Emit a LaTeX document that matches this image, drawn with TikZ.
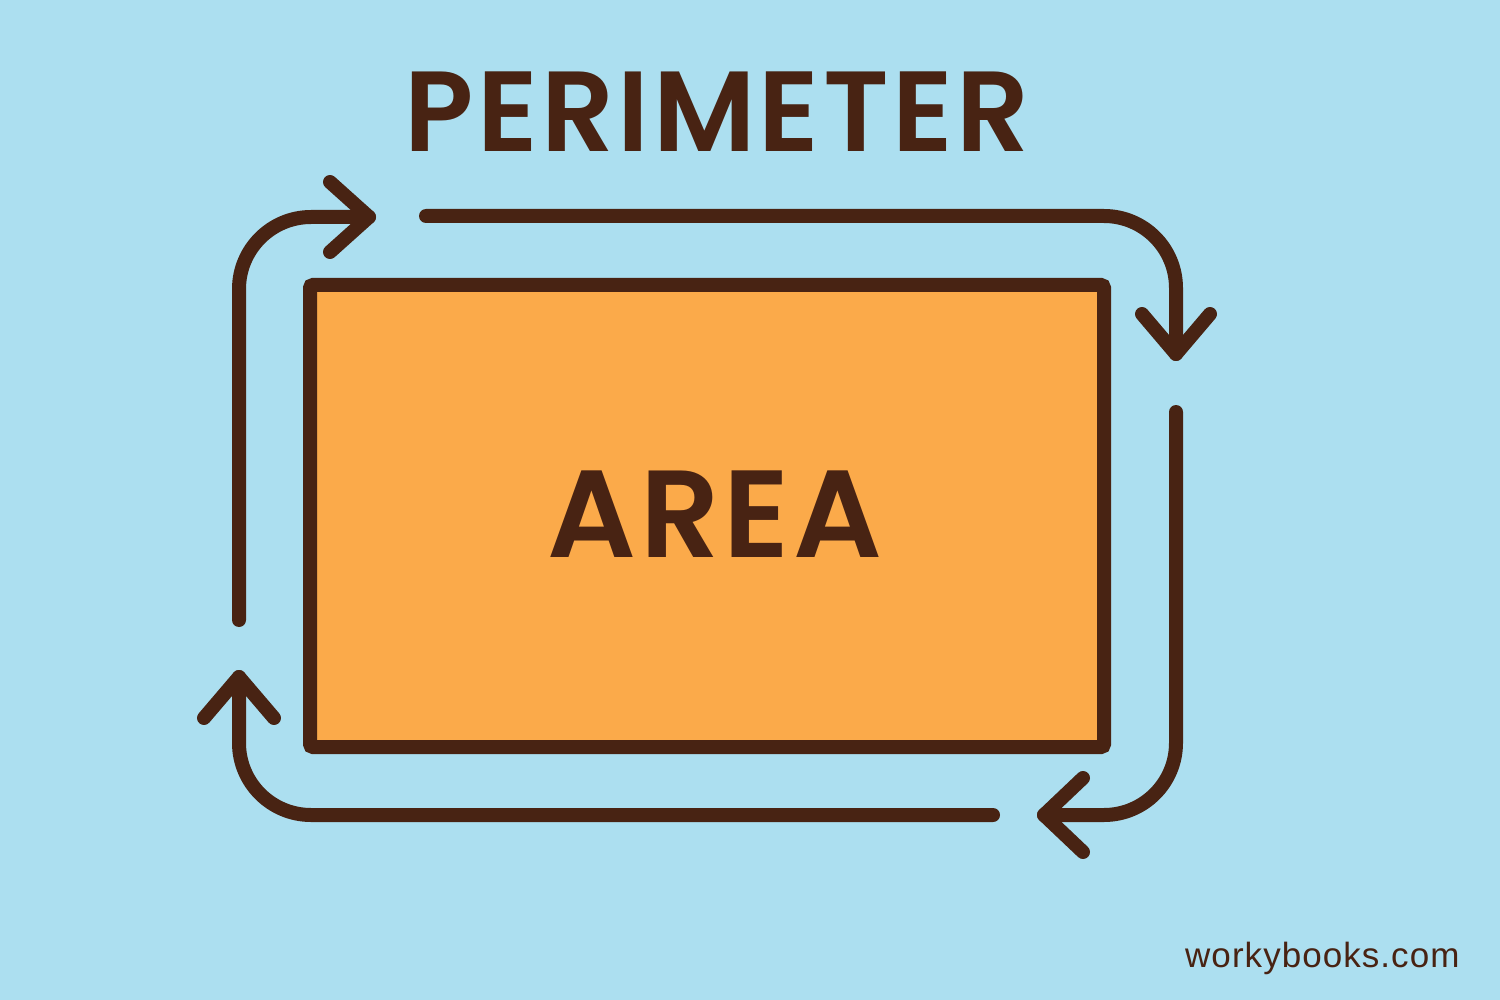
\documentclass[tikz,border=0pt]{standalone}
\usepackage{fontspec}
\setmainfont{Poppins}
\newfontfamily\titlefont{Poppins}[UprightFont={* SemiBold},LetterSpace=3]
\newfontfamily\urlfont{Liberation Sans}[LetterSpace=3]
\usetikzlibrary{calc}
\definecolor{bgblue}{RGB}{172,223,240}
\definecolor{boxorange}{RGB}{251,170,74}
\definecolor{brown}{RGB}{72,35,19}
\tikzset{
  perim/.style={draw=brown,line width=14pt,line cap=round,line join=round},
  headline/.style={draw=brown,line width=14pt,line cap=round,line join=round},
  title/.style={text=brown,inner sep=0pt,anchor=base},
}
\begin{document}
\begin{tikzpicture}[x=1pt,y=-1pt]
\useasboundingbox (0,0) rectangle (1500,1000);
\fill[bgblue] (0,0) rectangle (1500,1000);
% area rectangle
\node[draw=brown,fill=boxorange,line width=14pt,rounded corners=3pt,minimum width=794pt,minimum height=462pt,inner sep=0pt] (box) at (707,516) {};
\node[title,font=\titlefont\fontsize{124}{130}\selectfont] (area) at (715,557) {AREA};
\node[title,font=\titlefont\fontsize{114}{120}\selectfont] (perimeter) at (717,152) {PERIMETER};
\node[text=brown,font=\urlfont\fontsize{35}{40}\selectfont,anchor=base west,inner sep=0pt] (url) at (1185,967) {workybooks.com};
% coordinates
\coordinate (a1s) at (239,620); \coordinate (a1c) at (239,217); \coordinate (a1t) at (369,217);
\coordinate (a2s) at (426,216); \coordinate (a2c) at (1176,216); \coordinate (a2t) at (1176,354);
\coordinate (a3s) at (1176,412); \coordinate (a3c) at (1176,815); \coordinate (a3t) at (1044,815);
\coordinate (a4s) at (993,815); \coordinate (a4c) at (239,815); \coordinate (a4t) at (239,677);
% arrows
\draw[perim,rounded corners=72pt] (a1s) -- (a1c) -- (a1t);
\draw[headline] ($(a1t)+(-39,-35)$) -- (a1t) -- ($(a1t)+(-39,35)$);
\draw[perim,rounded corners=72pt] (a2s) -- (a2c) -- (a2t);
\draw[headline] ($(a2t)+(-34,-40)$) -- (a2t) -- ($(a2t)+(34,-40)$);
\draw[perim,rounded corners=72pt] (a3s) -- (a3c) -- (a3t);
\draw[headline] ($(a3t)+(39,-37)$) -- (a3t) -- ($(a3t)+(39,37)$);
\draw[perim,rounded corners=72pt] (a4s) -- (a4c) -- (a4t);
\draw[headline] ($(a4t)+(-35,41)$) -- (a4t) -- ($(a4t)+(35,41)$);
\end{tikzpicture}
\end{document}
